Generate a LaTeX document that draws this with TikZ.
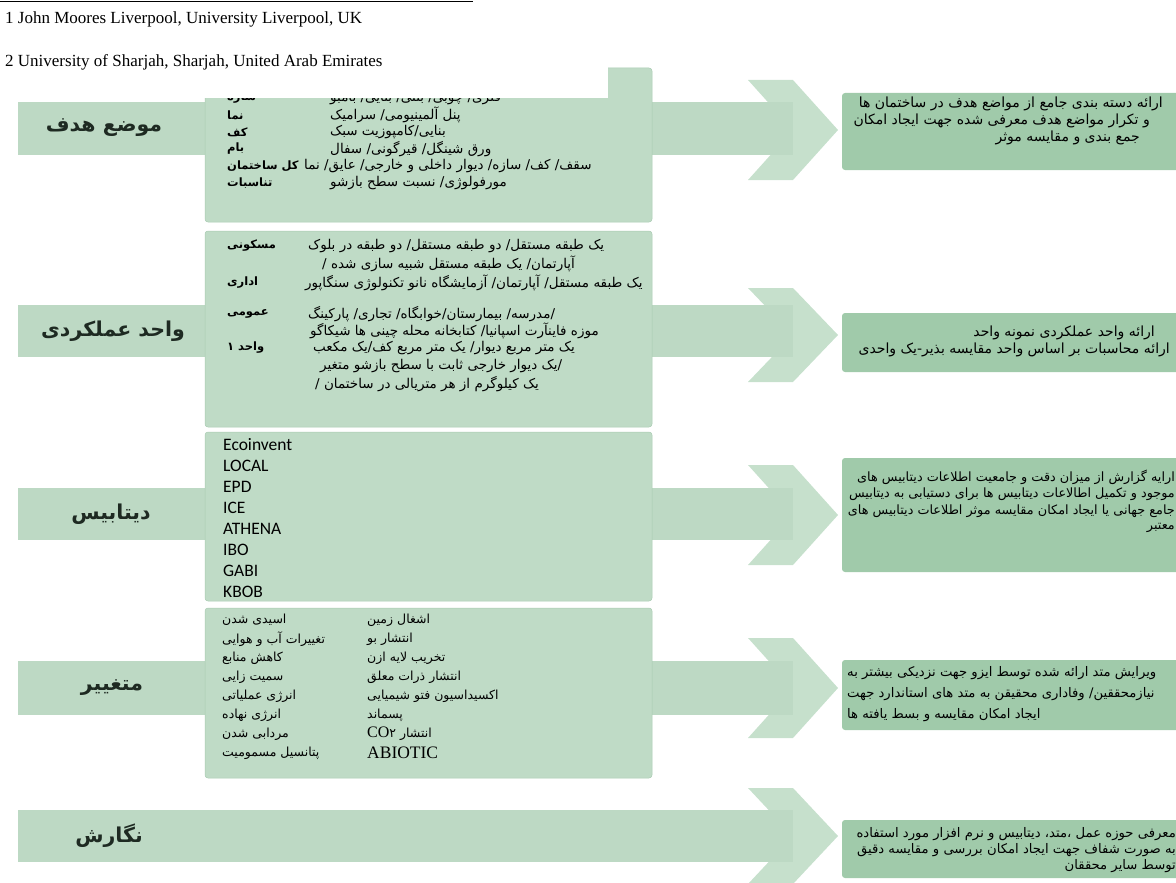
\documentclass[tikz,border=0pt]{standalone}
\usepackage{fontspec}
\setmainfont{Liberation Serif}
\newfontfamily\arabicfont[Script=Arabic]{DejaVu Sans}
\newfontfamily\listfont{Carlito}
\TeXXeTstate=1
\usetikzlibrary{calc}
\definecolor{bandgreen}{HTML}{BDD9C4}
\definecolor{boxgreen}{HTML}{BFDBC6}
\definecolor{boxedge}{HTML}{A9CBB2}
\definecolor{chevgreen}{HTML}{C6E0CC}
\definecolor{notegreen}{HTML}{A0CAAA}
\definecolor{labeltext}{HTML}{1E2A22}
\newcommand{\fa}[1]{\beginR #1\endR}

\begin{document}
\begin{tikzpicture}[x=1pt,y=-1pt,
    band/.style={fill=bandgreen},
    midbox/.style={fill=boxgreen, draw=boxedge, line width=0.5pt, rounded corners=3pt},
    notebox/.style={fill=notegreen, rounded corners=3pt},
    rowlabel/.style={inner sep=0pt, text=labeltext, font=\arabicfont\bfseries\fontsize{20.5}{24}\selectfont},
    itemlabel/.style={anchor=west, inner sep=0pt, font=\arabicfont\bfseries\fontsize{11.5}{13}\selectfont},
    itemtext/.style={anchor=west, inner sep=0pt, font=\arabicfont\fontsize{13.5}{15}\selectfont},
    impact/.style={anchor=west, inner sep=0pt, font=\arabicfont\fontsize{12.5}{15}\selectfont},
    notetext/.style={inner sep=0pt, font=\arabicfont\fontsize{14}{16}\selectfont},
    smallnote/.style={notetext, font=\arabicfont\fontsize{13.2}{16}\selectfont},
    dbitem/.style={anchor=west, inner sep=0pt, font=\listfont\fontsize{17.5}{20}\selectfont}]
  \useasboundingbox (0,0) rectangle (1176,883);

  % chevrons and row bands
  \foreach \t/\b in {80/180,288/382,465/565,638/738,788/884}
    \fill[chevgreen] (748,\t) -- (793,\t) -- (838,{(\t+\b)/2}) -- (793,\b) -- (748,\b) -- (793,{(\t+\b)/2}) -- cycle;
  \foreach \t/\b in {102/155,305/357,488/540,661/715,810/862}
    \fill[band] (18,\t) rectangle (793,\b);

  \node[rowlabel] (lbl1) at (104,128) {\fa{موضع هدف}};
  \node[rowlabel] (lbl2) at (113,331) {\fa{واحد عملکردی}};
  \node[rowlabel] (lbl3) at (111,514) {\fa{دیتابیس}};
  \node[rowlabel] (lbl4) at (112,688) {\fa{متغییر}};
  \node[rowlabel] (lbl5) at (109,836) {\fa{نگارش}};

  % middle boxes
  \draw[midbox] (205,68) rectangle (652,222);
  \draw[midbox] (205,231) rectangle (652,427);
  \draw[midbox] (205,432) rectangle (652,601);
  \draw[midbox] (205,608) rectangle (652,778);

  % box 1
  \node[itemlabel] (k11) at (227,98) {\fa{سازه}};
  \node[itemtext] (d11) at (330,98) {\fa{فلزی/ چوبی/ بتنی/ بنایی/ بامبو}};
  \node[itemlabel] (k12) at (227,115) {\fa{نما}};
  \node[itemtext] (d12) at (330,115) {\fa{پنل آلمینیومی/ سرامیک}};
  \node[itemlabel] (k13) at (227,132) {\fa{کف}};
  \node[itemtext] (d13) at (330,132) {\fa{بنایی/کامپوزیت سبک}};
  \node[itemlabel] (k14) at (227,149) {\fa{بام}};
  \node[itemtext] (d14) at (330,149) {\fa{ورق شینگل/ قیرگونی/ سفال}};
  \node[itemlabel] (k15) at (227,166) {\fa{کل ساختمان}};
  \node[itemtext] (d15) at (304,166) {\fa{سقف/ کف/ سازه/ دیوار داخلی و خارجی/ عایق/ نما}};
  \node[itemlabel] (k16) at (227,183) {\fa{تناسبات}};
  \node[itemtext] (d16) at (330,183) {\fa{مورفولوژی/ نسبت سطح بازشو}};

  % header
  \fill[white] (0,0) rectangle (608,98);
  \draw[line width=1pt] (0,1.5) -- (473,1.5);
  \node[anchor=west, inner sep=0pt, font=\fontsize{17}{20}\selectfont] (aff1) at (5,19) {1 John Moores Liverpool, University Liverpool, UK};
  \node[anchor=west, inner sep=0pt, font=\fontsize{17}{20}\selectfont] (aff2) at (5,62) {2 University of Sharjah, Sharjah, United Arab Emirates};

  % box 2
  \node[itemlabel] (k21) at (227,246) {\fa{مسکونی}};
  \node[itemtext] (d21) at (308,246) {\fa{یک طبقه مستقل/ دو طبقه مستقل/ دو طبقه در بلوک}};
  \node[itemtext] (d22) at (322,264) {\fa{آپارتمان/ یک طبقه مستقل شبیه سازی شده /}};
  \node[itemlabel] (k23) at (227,283) {\fa{اداری}};
  \node[itemtext] (d23) at (305,283) {\fa{یک طبقه مستقل/ آپارتمان/ آزمایشگاه نانو تکنولوژی سنگاپور}};
  \node[itemlabel] (k24) at (227,314) {\fa{عمومی}};
  \node[itemtext] (d24) at (308,314) {\fa{/مدرسه/ بیمارستان/خوابگاه/ تجاری/ پارکینگ}};
  \node[itemtext] (d25) at (310,331) {\fa{موزه فاینآرت اسپانیا/ کتابخانه محله چینی ها شیکاگو}};
  \node[itemlabel] (k26) at (227,348) {\fa{واحد ۱}};
  \node[itemtext] (d26) at (313,348) {\fa{یک متر مربع دیوار/ یک متر مربع کف/یک مکعب}};
  \node[itemtext] (d27) at (320,366) {\fa{/یک دیوار خارجی ثابت با سطح  بازشو متغیر}};
  \node[itemtext] (d28) at (315,384) {\fa{یک کیلوگرم از هر متریالی در ساختمان /}};

  % box 3
  \foreach \db [count=\i] in {Ecoinvent,LOCAL,EPD,ICE,ATHENA,IBO,GABI,KBOB}
    \node[dbitem] (db\i) at (223,{445+21*(\i-1)}) {\db};

  % box 4
  \foreach \v [count=\i] in {اسیدی شدن,تغییرات آب و هوایی,کاهش منابع,سمیت زایی,انرژی عملیاتی,انرژی نهاده,مردابی شدن,پتانسیل مسمومیت}
    \node[impact] (va\i) at (222,{620+19*(\i-1)}) {\fa{\v}};
  \foreach \v [count=\i] in {اشغال زمین,انتشار بو,تخریب لایه ازن,انتشار ذرات معلق,اکسیداسیون فتو شیمیایی,پسماند}
    \node[impact] (vb\i) at (367,{620+19*(\i-1)}) {\fa{\v}};
  \node[impact] (vb7) at (367,734) {\fa{انتشار \beginL{\rmfamily\fontsize{16}{18}\selectfont CO}۲\endL}};
  \node[impact] (vb8) at (367,753) {\rmfamily\fontsize{17.5}{20}\selectfont ABIOTIC};

  % result boxes
  \fill[notebox] (842,93) rectangle (1185,170);
  \fill[notebox] (842,313) rectangle (1185,372);
  \fill[notebox] (842,458) rectangle (1185,572);
  \fill[notebox] (842,660) rectangle (1185,730);
  \fill[notebox] (842,820) rectangle (1185,878);

  \node[notetext, anchor=east] (n11) at (1163,104) {\fa{ارائه دسته بندی جامع از مواضع هدف در ساختمان ها}};
  \node[notetext, anchor=east] (n12) at (1150,121) {\fa{و تکرار مواضع هدف معرفی شده جهت ایجاد امکان}};
  \node[notetext, anchor=east] (n13) at (1140,138) {\fa{جمع بندی و مقایسه موثر}};

  \node[notetext, anchor=east] (n21) at (1155,333) {\fa{ارائه واحد عملکردی نمونه واحد}};
  \node[notetext, anchor=east] (n22) at (1170,350) {\fa{ارائه محاسبات بر اساس واحد مقایسه بذیر-یک واحدی}};

  \foreach \ln [count=\i] in {ارایه گزارش از میزان دقت و جامعیت اطلاعات دیتابیس های,موجود و تکمیل اطالاعات دیتابیس ها برای دستیابی به دیتابیس,جامع جهانی  یا ایجاد امکان مقایسه موثر اطلاعات دیتابیس های,معتبر}
    \node[smallnote, anchor=east, font=\arabicfont\fontsize{12.8}{16}\selectfont] (n3\i) at (1175,{477+17*(\i-1)}) {\fa{\ln}};

  \foreach \ln [count=\i] in {ویرایش متد ارائه شده توسط ایزو جهت نزدیکی بیشتر به,نیازمحققین/ وفاداری محقیقن به متد های استاندارد جهت,ایجاد امکان مقایسه و بسط یافته ها}
    \node[smallnote, anchor=west] (n4\i) at (847,{673+21*(\i-1)}) {\fa{\ln}};

  \foreach \ln [count=\i] in {معرفی حوزه عمل ،متد، دیتابیس و نرم افزار مورد استفاده,به صورت شفاف جهت ایجاد امکان بررسی و مقایسه دقیق,توسط سایر محققان}
    \node[smallnote, anchor=east] (n5\i) at (1176,{834+16*(\i-1)}) {\fa{\ln}};
\end{tikzpicture}
\end{document}
